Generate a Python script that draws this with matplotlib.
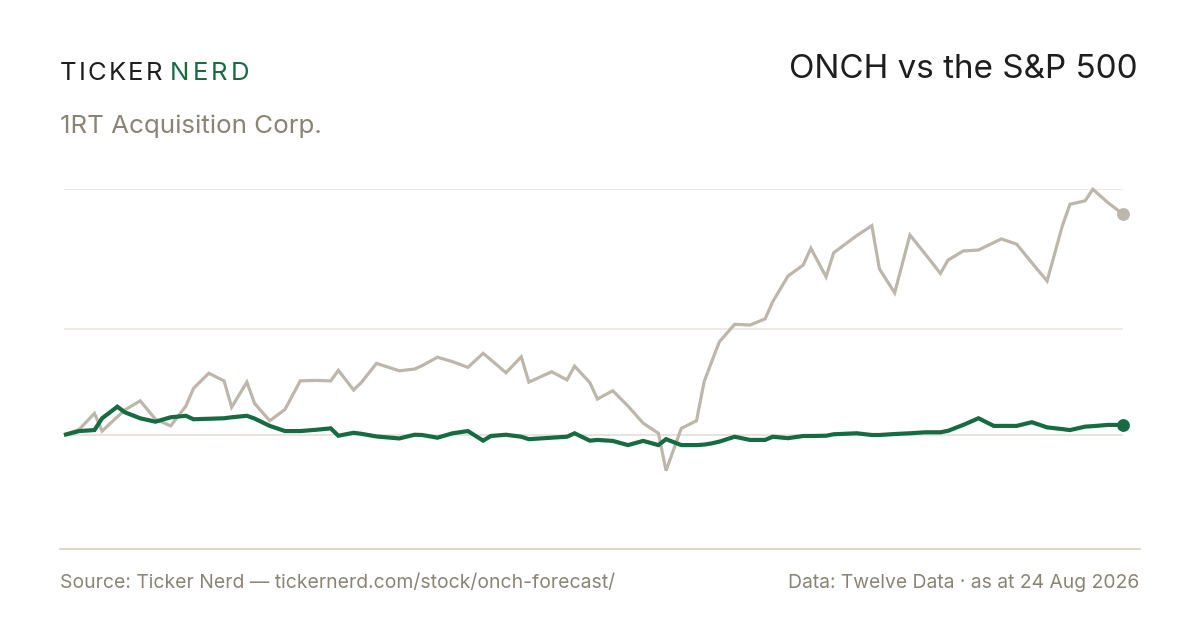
import matplotlib
matplotlib.use("Agg")
import matplotlib.pyplot as plt
from matplotlib.lines import Line2D

# ---- data (percent change since start; x = trading-day index) ----
day = [0, 2, 4, 5, 7, 8, 10, 12, 14, 16,
       17, 19, 21, 22, 24, 25, 26, 27, 29, 31,
       33, 35, 36, 38, 39, 41, 44, 46, 47, 49,
       51, 53, 55, 56, 58, 60, 61, 64, 66, 67,
       69, 70, 72, 74, 76, 78, 79, 81, 83, 84,
       85, 86, 88, 90, 92, 93, 95, 97, 98, 100,
       101, 104, 106, 107, 109, 111, 113, 115, 116, 118,
       120, 122, 123, 125, 127, 129, 131, 132, 134, 135,
       137, 139]

onch = [0.0, 2.3, 8.8, 1.6, 7.4, 10.2, 13.9, 6.4, 3.7, 11.8,
        19.0, 25.1, 22.0, 11.3, 21.5, 12.9, 9.3, 5.8, 10.4, 22.0,
        22.2, 22.0, 26.3, 18.3, 21.3, 29.1, 26.1, 26.8, 28.2, 31.6,
        29.8, 27.5, 33.2, 30.6, 25.3, 31.8, 21.5, 25.7, 22.4, 28.0,
        21.3, 14.6, 18.0, 11.8, 4.8, 0.7, -14.5, 2.7, 5.8, 21.7,
        29.9, 37.9, 45.0, 44.7, 47.2, 54.2, 64.6, 69.1, 75.9, 64.3,
        74.1, 81.0, 85.1, 67.5, 57.8, 81.3, 73.6, 65.7, 71.1, 74.8,
        75.2, 78.2, 79.7, 77.6, 70.0, 62.6, 85.0, 93.8, 95.2, 99.9,
        94.4, 89.7]

spx = [0.0, 1.6, 2.0, 6.8, 11.5, 9.2, 6.8, 5.4, 7.2, 7.8,
       6.4, 6.6, 6.8, 7.2, 7.8, 6.7, 5.2, 3.7, 1.6, 1.6,
       2.1, 2.7, -0.3, 0.9, 0.5, -0.6, -1.4, 0.1, 0.0, -1.1,
       0.7, 1.6, -2.3, -0.4, 0.1, -0.7, -1.7, -1.1, -0.7, 0.7,
       -2.3, -2.0, -2.4, -4.1, -2.4, -4.1, -1.7, -4.1, -4.1, -3.9,
       -3.4, -2.7, -0.7, -2.0, -2.0, -0.7, -1.3, -0.4, -0.4, -0.3,
       0.3, 0.7, 0.0, 0.0, 0.4, 0.7, 1.1, 1.1, 1.7, 4.1,
       6.8, 3.7, 3.7, 3.7, 5.2, 3.1, 2.4, 2.0, 3.4, 3.6,
       4.1, 4.1]

grid_values = [0.0, 43.1, 100.0]

title = "ONCH vs the S&P 500"
brand_left = "TICKER"
brand_right = "NERD"
company = "1RT Acquisition Corp."
source_text = "Source: Ticker Nerd \u2014 tickernerd.com/stock/onch-forecast/"
data_text = "Data: Twelve Data \u00b7 as at 24 Aug 2026"

# ---- style ----
W, H = 1200, 630
GREEN = "#176b42"
GRAY_LINE = "#bdb7ab"
GRID = "#ebe8e2"
AXIS = "#dcd8ce"
DARK = "#1e1e1e"
MUTED = "#8a8475"
FAM = ["Inter", "DejaVu Sans"]

plt.rcParams["font.family"] = FAM

fig = plt.figure(figsize=(W / 100, H / 100), dpi=100)
fig.patch.set_facecolor("white")
renderer = fig.canvas.get_renderer()


def fx(px):
    return px / W


def fy(py):
    return 1 - py / H


# plot area: x 64..1123, y 189 (top grid) .. 548 (axis line)
ax = fig.add_axes([fx(64), fy(548), fx(1123.3 - 64), (548 - 189) / H])
ax.set_xlim(0, 139)
ax.set_ylim((435 - 548) / 2.46, 100)
ax.axis("off")

for g in grid_values:
    ax.axhline(g, color=GRID if g != 0 else "#e3dfd7", lw=1.2, zorder=1)

ax.plot(day, onch, color=GRAY_LINE, lw=2.3, solid_joinstyle="miter",
        solid_capstyle="butt", zorder=3, clip_on=False)
ax.plot(day, spx, color=GREEN, lw=3.0, solid_joinstyle="miter",
        solid_capstyle="butt", zorder=4, clip_on=False)
ax.plot([day[-1]], [onch[-1]], "o", color=GRAY_LINE, ms=8.2, zorder=5, clip_on=False)
ax.plot([day[-1]], [spx[-1]], "o", color=GREEN, ms=8.2, zorder=6, clip_on=False)

# bottom rule
fig.add_artist(Line2D([fx(60), fx(1140)], [fy(548.5)] * 2, color=AXIS, lw=1.5))


def fit_text(x, base, s, width, color, ha="left", size0=14):
    t = fig.text(fx(x), fy(base), s, fontsize=size0, color=color,
                 ha=ha, va="baseline", family=FAM)
    w = t.get_window_extent(renderer).width
    t.set_fontsize(size0 * width / w)
    return t


def tracked(x0, base, s, width, color, size):
    widths = []
    for ch in s:
        t = fig.text(0, 0, ch, fontsize=size, family=FAM)
        widths.append(t.get_window_extent(renderer).width)
        t.remove()
    gap = (width - sum(widths)) / max(len(s) - 1, 1)
    x = x0
    for ch, w in zip(s, widths):
        fig.text(fx(x), fy(base), ch, fontsize=size, color=color,
                 ha="left", va="baseline", family=FAM)
        x += w + gap


tracked(60, 79.5, brand_left, 102, DARK, 18.5)
tracked(170, 79.5, brand_right, 79, GREEN, 18.5)

fit_text(60, 132.5, company, 262, MUTED)
fit_text(1138, 77.5, title, 349, DARK, ha="right")
fit_text(60, 587.5, source_text, 555, MUTED)
fit_text(1139, 587.5, data_text, 352, MUTED, ha="right")

fig.savefig("out.png", dpi=100, facecolor="white")
